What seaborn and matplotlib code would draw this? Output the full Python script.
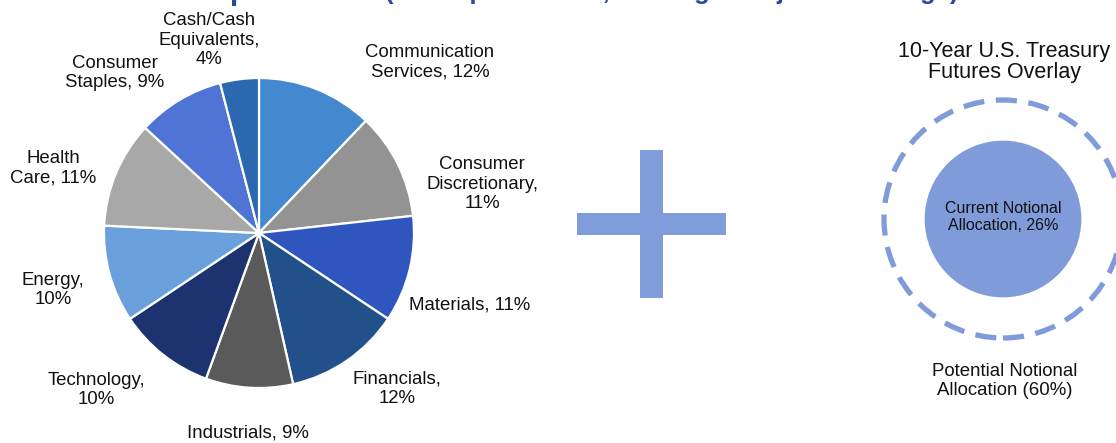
import matplotlib
matplotlib.use("Agg")
import matplotlib.pyplot as plt
from matplotlib.patches import Circle, Rectangle
import numpy as np
import seaborn as sns

# ---- data ----
sectors = ["Communication Services", "Consumer Discretionary", "Materials", "Financials",
           "Industrials", "Technology", "Energy", "Health Care", "Consumer Staples",
           "Cash/Cash Equivalents"]
weights = [12, 11, 11, 12, 9, 10, 10, 11, 9, 4]
label_text = ["Communication\nServices, 12%", "Consumer\nDiscretionary,\n11%",
              "Materials, 11%", "Financials,\n12%", "Industrials, 9%",
              "Technology,\n10%", "Energy,\n10%", "Health\nCare, 11%",
              "Consumer\nStaples, 9%", "Cash/Cash\nEquivalents,\n4%"]
sector_colors = ["#4488D0", "#939393", "#2F55BF", "#22508A", "#5A5A5A",
                 "#1C3370", "#6AA0DB", "#A8A8A8", "#5074D5", "#2B68B0"]
overlay_current = 26
overlay_potential = 60

# ---- layout (pixel-like coordinates, y measured from top) ----
W, H = 1116, 443
def Y(y):
    return H - y

label_pos = [(430, 62), (482, 184), (470, 305), (397, 389), (248, 433),
             (96, 390), (53, 290), (53, 168), (115, 73), (209, 40)]

sns.set_theme(style="white")
plt.rcParams['font.family'] = ['Liberation Sans', 'DejaVu Sans']

fig = plt.figure(figsize=(W / 100, H / 100), dpi=100)
ax = fig.add_axes([0, 0, 1, 1])

palette = sns.color_palette(sector_colors)
pie_center = (259, Y(233))
pie_r = 155
ax.pie(weights, colors=palette, startangle=90, counterclock=False,
       center=pie_center, radius=pie_r,
       wedgeprops=dict(edgecolor="white", linewidth=1.6))

txt = "#111111"
for lab, (x, y) in zip(label_text, label_pos):
    ax.text(x, Y(y), lab, ha="center", va="center", fontsize=13.4,
            color=txt, linespacing=1.22)

# ---- plus sign ----
plus_c = "#819CDA"
ax.add_patch(Rectangle((577, Y(235)), 149, 22, facecolor=plus_c, edgecolor="none"))
ax.add_patch(Rectangle((640, Y(298)), 23, 148, facecolor=plus_c, edgecolor="none"))

# ---- overlay circles (area proportional to allocation) ----
oc = (1003, Y(219))
outer_r = 119
inner_r = outer_r * np.sqrt(overlay_current / overlay_potential)
circ_c = "#7F9BD9"
ax.add_patch(Circle(oc, inner_r, facecolor=circ_c, edgecolor="none"))
ax.add_patch(Circle(oc, outer_r, facecolor="none", edgecolor=circ_c,
                    linewidth=3.8, linestyle=(0, (4, 2.2))))

ax.text(1004, Y(62), "10-Year U.S. Treasury\nFutures Overlay", ha="center",
        va="center", fontsize=15.5, color=txt, linespacing=1.05)
ax.text(1003, Y(217), "Current Notional\nAllocation, %d%%" % overlay_current,
        ha="center", va="center", fontsize=11.5, color=txt, linespacing=1.2)
ax.text(1005, Y(381), "Potential Notional\nAllocation (%d%%)" % overlay_potential,
        ha="center", va="center", fontsize=13.4, color=txt, linespacing=1.15)

# ---- heading, clipped by the top edge as in the source ----
title_c = "#2A4A9C"
ax.text(28, Y(-1), "Portfolio Composition", ha="left", va="baseline",
        fontsize=22, fontweight="bold", color=title_c)
ax.text(385, Y(-1), "(as of quarter end, holdings subject to change)", ha="left",
        va="baseline", fontsize=18.5, fontweight="bold", color=title_c)

ax.set_xlim(0, W)
ax.set_ylim(0, H)
ax.set_aspect("equal")
ax.axis("off")

fig.savefig("out.png", dpi=100)
